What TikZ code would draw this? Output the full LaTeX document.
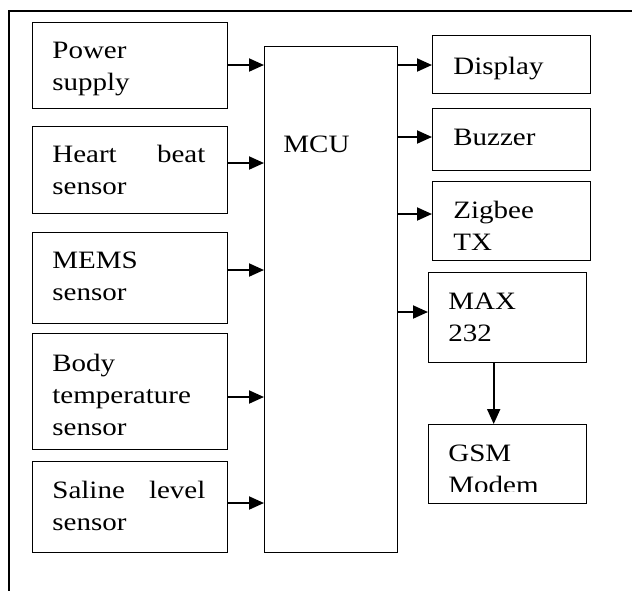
\documentclass[tikz,border=0pt]{standalone}
\usepackage{fontspec}
\setmainfont{Liberation Serif}[FakeStretch=1.16]
\usetikzlibrary{arrows.meta}
\tikzset{
  >={Triangle[length=7.5pt,width=6.5pt]},
  % boxes are given in units of the grid: width, height
  blk/.style 2 args={draw,line width=0.7pt,anchor=north west,inner sep=0pt,
    minimum width=#1*0.5pt,minimum height=#2*0.5pt},
  lbl/.style={anchor=base west,inner sep=0pt,align=left,text width=76.5pt,
    font=\fontsize{12.5}{16}\selectfont},
  flow/.style={->,line width=1pt},
}
\begin{document}
\begin{tikzpicture}[x=0.5pt,y=-0.5pt]
  \useasboundingbox (0,0) rectangle (632,591);
  % frame
  \draw[line width=1pt] (632,11) -- (9,11) -- (9,591);

  % inputs
  \node[blk={195}{86}] (pwr) at (32,22) {};
  \node[blk={195}{87}] (hb) at (32,126) {};
  \node[blk={195}{91}] (mems) at (32,232) {};
  \node[blk={195}{116}] (body) at (32,333) {};
  \node[blk={195}{91}] (sal) at (32,461) {};
  \node[lbl] (pwr-t) at (52,58) {Power\\supply};
  \node[lbl] (hb-t) at (52,162) {Heart\hfill beat\\sensor};
  \node[lbl] (mems-t) at (52,268) {MEMS\\sensor};
  \node[lbl] (body-t) at (52,371) {Body\\temperature\\sensor};
  \node[lbl] (sal-t) at (52,498) {Saline\hfill level\\sensor};

  % controller
  \node[blk={133}{506}] (mcu) at (264,46) {};
  \node[lbl] (mcu-t) at (283,152) {MCU};

  % outputs
  \node[blk={158}{58}] (disp) at (432,35) {};
  \node[blk={158}{62}] (buz) at (432,108) {};
  \node[blk={158}{79}] (zig) at (432,181) {};
  \node[blk={158}{90}] (max) at (428,272) {};
  \node[blk={158}{79}] (gsm) at (428,424) {};
  \node[lbl] (disp-t) at (453,74) {Display};
  \node[lbl] (buz-t) at (453,145) {Buzzer};
  \node[lbl] (zig-t) at (453,218) {Zigbee\\TX};
  \node[lbl] (max-t) at (448,309) {MAX\\232};
  \begin{scope}
    \clip (428,424) rectangle (586,491);
    \node[lbl] (gsm-t) at (448,461) {GSM\\Modem};
  \end{scope}

  % connections
  \foreach \src/\y in {pwr/65,hb/163,mems/270,body/397,sal/503}
    \draw[flow] (\src.east |- 0,\y) -- (mcu.west |- 0,\y);
  \foreach \dst/\y in {disp/65,buz/137,zig/214,max/312}
    \draw[flow] (mcu.east |- 0,\y) -- (\dst.west |- 0,\y);
  \draw[flow] ([xshift=-7pt]max.south) -- ([xshift=-7pt]max.south |- gsm.north);
\end{tikzpicture}
\end{document}
